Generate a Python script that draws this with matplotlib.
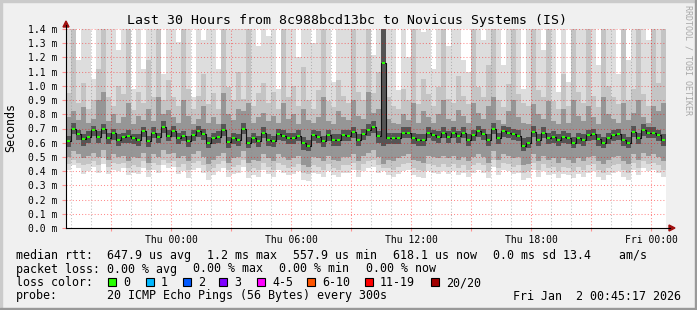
import numpy as np
import matplotlib
matplotlib.use('Agg')
import matplotlib.pyplot as plt
from matplotlib.lines import Line2D
from matplotlib.patches import Polygon, Rectangle

W, H = 697, 310
plt.rcParams['font.family'] = ['DejaVu Sans Mono']

# 15 minute samples, hours counted from Wed 18:45
step_h = 0.25

# median rtt in ms
median_ms = [
    0.610, 0.700, 0.660, 0.625, 0.640, 0.690, 0.640, 0.700, 0.630, 0.665,
    0.620, 0.640, 0.645, 0.633, 0.620, 0.680, 0.612, 0.670, 0.640, 0.710,
    0.650, 0.680, 0.630, 0.647, 0.610, 0.655, 0.683, 0.660, 0.600, 0.630,
    0.643, 0.690, 0.605, 0.630, 0.620, 0.700, 0.600, 0.635, 0.613, 0.670,
    0.620, 0.610, 0.660, 0.650, 0.636, 0.630, 0.650, 0.596, 0.580, 0.654,
    0.640, 0.610, 0.654, 0.620, 0.620, 0.654, 0.650, 0.673, 0.620, 0.660,
    0.690, 0.710, 0.645, 1.160, 0.630, 0.630, 0.630, 0.668, 0.668, 0.630,
    0.620, 0.619, 0.666, 0.654, 0.643, 0.666, 0.640, 0.666, 0.645, 0.666,
    0.620, 0.654, 0.683, 0.659, 0.620, 0.700, 0.636, 0.683, 0.666, 0.660,
    0.650, 0.580, 0.600, 0.678, 0.620, 0.666, 0.636, 0.643, 0.619, 0.643,
    0.630, 0.600, 0.636, 0.620, 0.654, 0.660, 0.625, 0.600, 0.630, 0.654,
    0.660, 0.620, 0.600, 0.678, 0.636, 0.690, 0.666, 0.670, 0.654, 0.620,
]

# smoke band edges in 1/100 ms (150 = off the top of the graph)
ping_max = [
    150, 150, 118, 150, 150, 105, 150, 150, 150, 150, 125, 150, 150, 98, 150, 112, 150, 150, 150, 108,
    150, 150, 131, 150, 150, 92, 150, 132, 150, 150, 112, 150, 150, 150, 150, 150, 150, 150, 128, 150,
    135, 150, 98, 150, 150, 150, 120, 150, 150, 130, 150, 112, 150, 103, 150, 150, 150, 125, 150, 150,
    150, 122, 150, 150, 150, 150, 97, 150, 120, 150, 150, 138, 150, 112, 150, 150, 128, 150, 150, 118,
    110, 150, 150, 132, 150, 150, 150, 115, 150, 150, 150, 98, 150, 150, 150, 125, 150, 150, 96, 150,
    103, 150, 150, 150, 128, 150, 115, 150, 150, 150, 108, 150, 118, 150, 150, 150, 132, 150, 150, 150,
]
ping_p90 = [
    95, 150, 88, 102, 84, 90, 112, 150, 92, 86, 100, 94, 150, 83, 96, 88, 118, 92, 150, 90,
    104, 92, 86, 150, 98, 84, 93, 108, 87, 95, 84, 150, 99, 90, 110, 91, 150, 86, 95, 102,
    88, 96, 84, 150, 92, 100, 86, 113, 90, 84, 97, 150, 89, 85, 104, 93, 88, 150, 96, 90,
    150, 95, 110, 150, 92, 86, 84, 98, 90, 150, 87, 105, 94, 86, 99, 150, 91, 88, 107, 93,
    87, 150, 99, 92, 115, 150, 90, 85, 101, 150, 94, 88, 86, 150, 97, 92, 150, 89, 84, 108,
    86, 150, 96, 88, 150, 93, 85, 150, 100, 92, 87, 150, 90, 98, 150, 94, 86, 150, 102, 150,
]
ping_p75 = [
    78, 82, 76, 85, 74, 77, 90, 96, 75, 80, 74, 78, 88, 73, 79, 76, 84, 75, 92, 80,
    83, 78, 74, 90, 79, 73, 77, 86, 74, 78, 73, 95, 80, 76, 84, 82, 88, 74, 78, 81,
    75, 79, 74, 88, 77, 80, 73, 84, 76, 74, 78, 92, 75, 73, 82, 78, 76, 90, 79, 77,
    96, 81, 84, 150, 77, 74, 73, 80, 76, 88, 74, 82, 78, 74, 80, 90, 77, 75, 83, 79,
    74, 88, 81, 77, 86, 92, 76, 73, 82, 90, 78, 74, 73, 87, 80, 77, 89, 75, 73, 84,
    74, 90, 79, 75, 86, 78, 73, 92, 80, 77, 74, 88, 76, 81, 90, 78, 74, 86, 82, 88,
]
ping_p60 = [
    65, 74, 69, 66, 68, 72, 68, 73, 67, 70, 66, 67, 69, 66, 66, 71, 65, 71, 67, 75,
    69, 72, 67, 68, 65, 69, 72, 70, 64, 67, 68, 73, 64, 67, 66, 74, 64, 67, 65, 71,
    66, 65, 70, 69, 67, 67, 69, 64, 62, 69, 68, 65, 69, 66, 66, 69, 69, 71, 66, 70,
    73, 75, 68, 150, 67, 67, 67, 71, 71, 67, 66, 66, 71, 69, 68, 71, 68, 71, 68, 71,
    66, 69, 72, 70, 66, 74, 67, 72, 71, 70, 69, 63, 64, 72, 66, 71, 67, 68, 66, 68,
    67, 64, 67, 66, 69, 70, 66, 64, 67, 69, 70, 66, 64, 72, 67, 73, 71, 71, 69, 66,
]
ping_p40 = [
    57, 66, 62, 58, 60, 65, 60, 66, 59, 62, 58, 60, 60, 59, 58, 64, 57, 63, 60, 67,
    61, 64, 59, 61, 57, 61, 64, 62, 56, 59, 60, 65, 56, 59, 58, 66, 56, 60, 57, 63,
    58, 57, 62, 61, 59, 59, 61, 55, 54, 61, 60, 57, 61, 58, 58, 61, 61, 63, 58, 62,
    65, 67, 60, 58, 59, 59, 59, 63, 63, 59, 58, 58, 63, 61, 60, 63, 60, 63, 60, 63,
    58, 61, 64, 62, 58, 66, 59, 64, 63, 62, 61, 54, 56, 64, 58, 63, 59, 60, 58, 60,
    59, 56, 59, 58, 61, 62, 58, 56, 59, 61, 62, 58, 56, 64, 59, 65, 63, 63, 61, 58,
]
ping_p25 = [
    50, 54, 52, 49, 51, 53, 50, 55, 48, 52, 50, 51, 47, 50, 49, 53, 46, 52, 50, 55,
    52, 53, 49, 51, 47, 52, 54, 50, 45, 48, 51, 53, 46, 49, 50, 54, 46, 48, 47, 52,
    49, 47, 52, 50, 48, 49, 51, 44, 43, 50, 49, 47, 51, 48, 47, 50, 50, 52, 47, 51,
    53, 55, 50, 45, 48, 47, 49, 51, 52, 48, 47, 46, 51, 50, 49, 51, 49, 51, 48, 50,
    47, 50, 52, 50, 46, 54, 48, 52, 51, 49, 50, 44, 45, 52, 47, 51, 48, 49, 46, 49,
    48, 46, 49, 47, 50, 51, 47, 45, 48, 50, 51, 47, 45, 52, 48, 53, 51, 52, 50, 47,
]
ping_p10 = [
    45, 48, 46, 44, 45, 47, 44, 49, 43, 46, 45, 46, 42, 44, 43, 47, 41, 46, 44, 48,
    46, 47, 43, 45, 41, 46, 47, 44, 40, 42, 45, 47, 41, 43, 44, 48, 40, 42, 41, 46,
    43, 41, 46, 44, 42, 43, 45, 39, 38, 44, 43, 41, 45, 42, 41, 44, 44, 46, 41, 45,
    47, 48, 44, 42, 42, 41, 43, 45, 46, 42, 41, 40, 45, 44, 43, 45, 43, 45, 42, 44,
    41, 44, 46, 44, 40, 48, 42, 46, 45, 43, 44, 39, 40, 46, 41, 45, 42, 43, 40, 43,
    42, 40, 43, 41, 44, 45, 41, 39, 42, 44, 45, 41, 39, 46, 42, 47, 45, 46, 44, 41,
]
ping_min = [
    41, 44, 42, 38, 40, 43, 39, 45, 38, 41, 40, 42, 37, 39, 38, 42, 36, 41, 39, 44,
    42, 43, 38, 40, 35, 41, 42, 39, 34, 37, 40, 42, 36, 38, 39, 43, 35, 37, 36, 41,
    38, 36, 41, 39, 37, 38, 40, 34, 33, 39, 38, 36, 40, 37, 36, 39, 39, 41, 36, 40,
    42, 43, 39, 40, 37, 36, 38, 40, 41, 37, 36, 35, 40, 39, 38, 40, 38, 40, 37, 39,
    36, 39, 41, 39, 35, 43, 37, 41, 40, 38, 39, 34, 35, 41, 36, 40, 37, 38, 35, 38,
    37, 35, 38, 36, 39, 40, 36, 34, 37, 39, 40, 36, 34, 41, 37, 42, 40, 41, 39, 36,
]

# x axis labels (hours from start) and legend numbers
tick_hours = [5.25, 11.25, 17.25, 23.25, 29.25]
tick_labels = ['Thu 00:00', 'Thu 06:00', 'Thu 12:00', 'Thu 18:00', 'Fri 00:00']
loss_labels = ['0', '1', '2', '3', '4-5', '6-10', '11-19', '20/20']
loss_colors = ['#26ff00', '#00b8ff', '#0059ff', '#7e00ff', '#ff00ff', '#ff5500', '#ff0000', '#a10000']


def px(x, y):
    # pixel position (from top left) -> figure fraction
    return x / W, 1 - y / H


fig = plt.figure(figsize=(W / 100, H / 100), dpi=100, facecolor='#f0f0f0')
ax = fig.add_axes([66 / W, (H - 228) / H, 600 / W, 199 / H])
ax.set_facecolor('white')

n = len(median_ms)
t_edges = np.arange(n + 1) * step_h
t_mid = t_edges[:-1] + step_h / 2


def band(lo, hi, color):
    lo = np.asarray(lo) / 100.0
    hi = np.asarray(hi) / 100.0
    ax.fill_between(t_edges, np.append(lo, lo[-1]), np.append(hi, hi[-1]),
                    step='post', color=color, lw=0, antialiased=False, zorder=1)


# smoke, outer band first
band(ping_min, ping_max, '#dddddd')
band(ping_p10, ping_p90, '#c4c4c4')
band(ping_p25, ping_p75, '#969696')
band(ping_p40, ping_p60, '#555555')

# grid on top of the smoke
minor_h = [0.25 + k for k in range(30)]
major_h = [2.25 + 3 * k for k in range(10)]
for t in minor_h:
    if t not in major_h:
        ax.axvline(t, color='#8c8c8c', alpha=0.55, lw=0.75, ls=(0, (1, 2)), zorder=2)
for t in major_h:
    ax.axvline(t, color='#ff0000', alpha=0.45, lw=0.75, ls=(0, (1, 2)), zorder=2)
for v in np.arange(1, 15) / 10:
    ax.axhline(v, color='#ff0000', alpha=0.45, lw=0.75, ls=(0, (1, 2)), zorder=2)

# median: black risers, green dots
med = np.asarray(median_ms)
ax.step(t_mid, med, where='mid', color='#111111', lw=0.8, zorder=3)
ax.hlines(med, t_mid - 0.07, t_mid + 0.07, color=loss_colors[0], lw=1.5, zorder=4)

ax.set_xlim(0, 30)
ax.set_ylim(0, 1.4)
for s in ax.spines.values():
    s.set_visible(False)

ax.set_xticks(major_h)
ax.set_xticklabels([tick_labels[tick_hours.index(t)] if t in tick_hours else '' for t in major_h],
                   fontsize=7.05)
ax.set_yticks(np.arange(0, 15) / 10)
ax.set_yticklabels(['%.1f m' % v for v in np.arange(0, 15) / 10], fontsize=7.05)
ax.tick_params(axis='x', length=2, width=0.8, color='#ff9090', pad=3)
ax.tick_params(axis='y', length=3, width=0.8, color='#ff9090', pad=3)

# axis lines and arrows
fig.add_artist(Line2D([66 / W, 670 / W], [(H - 228) / H] * 2, color='black', lw=0.8))
fig.add_artist(Line2D([66 / W] * 2, [(H - 228) / H, (H - 25) / H], color='black', lw=0.8))
fig.add_artist(Polygon([px(66, 21), px(63, 27), px(69, 27)], closed=True,
                       transform=fig.transFigure, color='#a01010'))
fig.add_artist(Polygon([px(675, 228), px(669, 225), px(669, 231)], closed=True,
                       transform=fig.transFigure, color='#a01010'))

# frame shading
fig.add_artist(Rectangle((0, 0), 2 / W, 1, transform=fig.transFigure, color='#cbcbcb'))
fig.add_artist(Rectangle((0, 1 - 2 / H), 1, 2 / H, transform=fig.transFigure, color='#cbcbcb'))
fig.add_artist(Rectangle((1 - 2 / W, 0), 2 / W, 1, transform=fig.transFigure, color='#999999'))
fig.add_artist(Rectangle((0, 0), 1, 2 / H, transform=fig.transFigure, color='#999999'))

# title, unit, watermark
fig.text(*px(347, 24), 'Last 30 Hours from 8c988bcd13bc to Novicus Systems (IS)',
         ha='center', va='baseline', fontsize=9.5)
fig.text(*px(11, 128), 'Seconds', rotation=90, ha='center', va='center', fontsize=8.4)
fig.text(*px(688, 5), 'RRDTOOL / TOBI OETIKER', rotation=270, ha='center', va='top',
         fontsize=6, color='#a8a8a8')

# legend
fs = 8.37
rows = [259, 272.5, 286, 299.5]
line1 = [(16, 'median rtt:'), (107, '647.9 us avg'), (207, '1.2 ms max'), (293, '557.9 us min'),
         (393, '618.1 us now'), (493, '0.0 ms sd'), (563, '13.4    am/s')]
line2 = [(16, 'packet loss:'), (107, '0.00 % avg'), (193, '0.00 % max'), (279, '0.00 % min'),
         (366, '0.00 % now')]
line4 = [(16, 'probe:'), (107, '20 ICMP Echo Pings (56 Bytes) every 300s'),
         (513, 'Fri Jan  2 00:45:17 2026')]
for row, items in ((rows[0], line1), (rows[1], line2), (rows[3], line4)):
    for x, s in items:
        fig.text(*px(x, row), s, ha='left', va='baseline', fontsize=fs)

fig.text(*px(16, rows[2]), 'loss color:', ha='left', va='baseline', fontsize=fs)
box_x = [108, 146, 183, 219, 257, 307, 365, 431]
for bx, lab, col in zip(box_x, loss_labels, loss_colors):
    fig.add_artist(Rectangle(px(bx, 286), 8 / W, 8 / H, transform=fig.transFigure,
                             facecolor=col, edgecolor='black', lw=0.8))
    fig.text(*px(bx + 15, rows[2]), lab, ha='left', va='baseline', fontsize=fs)

fig.savefig('out.png', dpi=100, facecolor=fig.get_facecolor())
